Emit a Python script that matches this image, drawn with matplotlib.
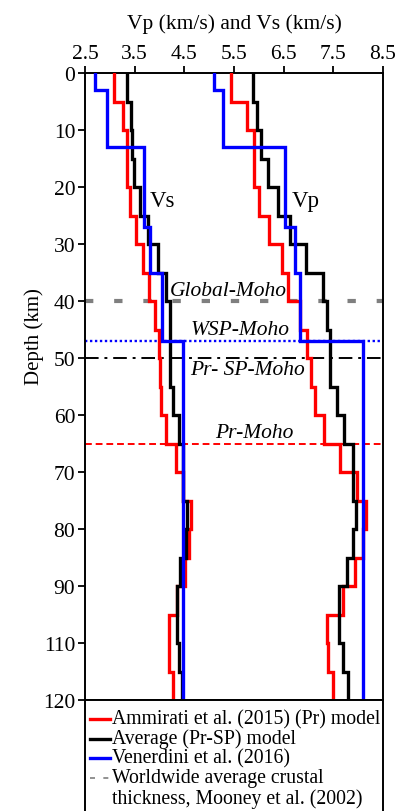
import matplotlib
matplotlib.use("Agg")
import matplotlib.pyplot as plt

plt.rcParams['font.family'] = ['Liberation Serif', 'DejaVu Serif']

# ---- data ----
# 5-km layer tops (Ammirati Pr model and average Pr-SP model)
layer_tops = [0, 5, 10, 15, 20, 25, 30, 35, 40, 45, 50, 55, 60, 65, 70, 75, 80, 85, 90, 95, 100, 105]
bottom_depth = 110

red_vs = [3.09, 3.27, 3.35, 3.35, 3.41, 3.53, 3.67, 3.78, 3.90, 3.98, 4.01, 4.04, 4.14, 4.33,
          4.48, 4.64, 4.60, 4.51, 4.36, 4.20, 4.20, 4.28]
red_vp = [5.43, 5.76, 5.90, 5.90, 6.01, 6.21, 6.46, 6.59, 6.83, 6.96, 7.06, 7.13, 7.31, 7.63,
          7.97, 8.15, 8.10, 7.94, 7.69, 7.37, 7.39, 7.50]
black_vs = [3.35, 3.42, 3.45, 3.49, 3.61, 3.77, 3.96, 4.14, 4.22, 4.22, 4.22, 4.28, 4.40, 4.47,
            4.47, 4.56, 4.54, 4.42, 4.35, 4.35, 4.40, 4.45]
black_vp = [5.89, 5.97, 6.04, 6.18, 6.39, 6.63, 6.95, 7.30, 7.37, 7.43, 7.43, 7.57, 7.72, 7.89,
            7.89, 7.96, 7.89, 7.77, 7.62, 7.62, 7.70, 7.79]

# Venerdini et al. (2016)
blue_tops = [0, 3, 13, 27, 35, 47]
blue_vs = [2.70, 2.94, 3.69, 3.81, 4.06, 4.47]
blue_vp = [5.10, 5.28, 6.53, 6.73, 6.83, 8.10]

# Moho depths
moho_global = 40
moho_wsp = 47
moho_prsp = 50
moho_pr = 65

x_ticks = [2.5, 3.5, 4.5, 5.5, 6.5, 7.5, 8.5]
y_ticks = [0, 10, 20, 30, 40, 50, 60, 70, 80, 90, 100, 110]
y_ticklabels = ['0', '10', '20', '30', '40', '50', '60', '70', '80', '90', '110', '120']

legend_labels = ['Ammirati et al. (2015) (Pr) model', 'Average (Pr-SP) model',
                 'Venerdini et al. (2016)',
                 'Worldwide average crustal\nthickness, Mooney et al. (2002)']
legend_colors = ['red', 'black', 'blue', '#7f7f7f']


def steps(tops, vals, bottom):
    xs, ys = [], []
    bots = list(tops[1:]) + [bottom]
    for t, b, v in zip(tops, bots, vals):
        xs += [v, v]
        ys += [t, b]
    return xs, ys


W, H = 400, 812
fig = plt.figure(figsize=(W / 100, H / 100), dpi=100)
ax = fig.add_axes([85 / W, 1 - 701 / H, 298 / W, 627 / H])

lw = 2.4
for vals, tops, col in [(red_vs, layer_tops, 'red'), (red_vp, layer_tops, 'red'),
                        (black_vs, layer_tops, 'black'), (black_vp, layer_tops, 'black'),
                        (blue_vs, blue_tops, 'blue'), (blue_vp, blue_tops, 'blue')]:
    xs, ys = steps(tops, vals, bottom_depth)
    ax.plot(xs, ys, color=col, lw=lw, solid_joinstyle='miter', zorder=3)

# Moho lines
ax.axhline(moho_global, color='#7f7f7f', lw=3.0, ls=(0, (2.0, 5.0)), zorder=2)
ax.axhline(moho_wsp, color='blue', lw=1.7, ls=(0, (1, 1.1)), zorder=2)
ax.axhline(moho_prsp, color='black', lw=1.4, ls=(0, (7, 3, 1.5, 3)), zorder=2)
ax.axhline(moho_pr, color='red', lw=1.4, ls=(0, (3.5, 2)), zorder=2)

tfs = 15.5
ax.text(4.21, moho_global - 0.2, 'Global-Moho', style='italic', fontsize=tfs, va='bottom', ha='left')
ax.text(4.62, moho_wsp - 0.3, 'WSP-Moho', style='italic', fontsize=tfs, va='bottom', ha='left')
ax.text(4.62, moho_prsp + 0.3, 'Pr- SP-Moho', style='italic', fontsize=tfs, va='top', ha='left')
ax.text(5.12, moho_pr - 0.2, 'Pr-Moho', style='italic', fontsize=tfs, va='bottom', ha='left')

ax.text(3.81, 22.3, 'Vs', fontsize=16.5, va='center', ha='left')
ax.text(6.66, 22.3, 'Vp', fontsize=16.5, va='center', ha='left')

ax.set_xlim(2.5, 8.5)
ax.set_ylim(bottom_depth, 0)
ax.xaxis.tick_top()
ax.xaxis.set_label_position('top')
ax.set_xticks(x_ticks)
ax.set_xticklabels([f'{t:.1f}' for t in x_ticks])
ax.set_yticks(y_ticks)
ax.set_yticklabels(y_ticklabels)
ax.tick_params(axis='both', direction='out', length=5, width=1.3, labelsize=15.5, pad=2)
ax.set_xlabel('Vp (km/s) and Vs (km/s)', fontsize=15.5, labelpad=12)
ax.set_ylabel('Depth (km)', fontsize=15)
ax.yaxis.set_label_coords(-0.136, 0.582)
for s in ax.spines.values():
    s.set_linewidth(1.4)

# legend box below
lax = fig.add_axes([85 / W, -0.02, 298 / W, (812 - 701) / H + 0.02])
lax.set_xlim(85, 383)
lax.set_ylim(812 + 0.02 * H, 701)
lax.set_xticks([])
lax.set_yticks([])
lax.spines['bottom'].set_visible(False)
for s in lax.spines.values():
    s.set_linewidth(1.4)

row_y = [720, 739.5, 759, 779]
for lab, col, y in zip(legend_labels, legend_colors, row_y):
    if col == '#7f7f7f':
        lax.plot([90, 110], [y, y], color=col, lw=1.2, ls=(0, (3, 5)), clip_on=False)
    else:
        lax.plot([90, 110], [y, y], color=col, lw=2.4, clip_on=False)
    for k, part in enumerate(lab.split('\n')):
        lax.text(112, y + 20 * k, part, fontsize=14.2, va='center', ha='left')

fig.savefig('out.png', dpi=100)
